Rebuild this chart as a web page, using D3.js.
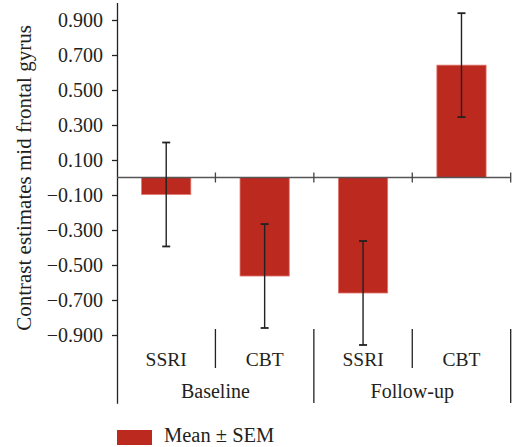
<!DOCTYPE html>
<html><head><meta charset="utf-8">
<script src="https://cdn.jsdelivr.net/npm/d3@7"></script>
<style>
body{margin:0;background:#fff;}
</style></head>
<body><svg id="c" width="518" height="447"></svg>
<script>
const categories = ["SSRI","CBT","SSRI","CBT"];
const groups = ["Baseline","Follow-up"];
const means = [-0.097, -0.563, -0.660, 0.642];
const sems = [0.297, 0.297, 0.297, 0.297];
const tickValues = [-0.9,-0.7,-0.5,-0.3,-0.1,0.1,0.3,0.5,0.7,0.9];
const yLabel = "Contrast estimates mid frontal gyrus";
const legendLabel = "Mean ± SEM";

(function(){
const FONT = "'Liberation Serif', 'DejaVu Serif', serif";
const svg = d3.select("#c");
const red = "#bb291f";
const y = d3.scaleLinear().domain([1.0, -1.29]).range([2.5, 403.25]);
const x = d3.scaleBand().domain(d3.range(categories.length)).range([117, 510.7]).padding(0);
const gx = d3.scaleBand().domain(groups).range([117, 510.7]).padding(0);

const yAxis = d3.axisLeft(y).tickValues(tickValues).tickFormat(d3.format(".3f")).tickSize(5).tickPadding(9).tickSizeOuter(0);
const ga = svg.append("g").attr("transform","translate(117,0)").call(yAxis);
ga.attr("font-family", null);
ga.selectAll("path.domain").attr("stroke","#222").attr("stroke-width",1.3);
ga.selectAll(".tick line").attr("stroke","#222").attr("stroke-width",1.3);
ga.selectAll(".tick text").style("font-size","20px").style("font-family",FONT).attr("fill","#231f20");

svg.selectAll("rect.bar").data(means).join("rect").attr("class","bar")
  .attr("x",(d,i)=>x(i)+x.bandwidth()*0.25)
  .attr("width",x.bandwidth()*0.5)
  .attr("y",d=>y(Math.max(0,d)))
  .attr("height",d=>Math.abs(y(d)-y(0)))
  .attr("fill",red).attr("stroke","#e0776d").attr("stroke-width",0.8);

svg.append("line").attr("x1",117).attr("x2",510.7).attr("y1",y(0)).attr("y2",y(0))
  .attr("stroke","#555").attr("stroke-width",1.5);
d3.range(1,categories.length+1).forEach(i=>{
  const xx = i<categories.length ? x(i) : x.range()[1];
  svg.append("line").attr("x1",xx).attr("x2",xx).attr("y1",y(0)-5).attr("y2",y(0)+5)
    .attr("stroke","#444").attr("stroke-width",1.3);
});

const eg = svg.append("g").attr("stroke","#222").attr("stroke-width",1.4);
means.forEach((m,i)=>{
  const cx = x(i)+x.bandwidth()/2;
  eg.append("line").attr("x1",cx).attr("x2",cx).attr("y1",y(m+sems[i])).attr("y2",y(m-sems[i]));
  [m+sems[i], m-sems[i]].forEach(v=>{
    eg.append("line").attr("x1",cx-4).attr("x2",cx+4).attr("y1",y(v)).attr("y2",y(v)).attr("stroke-width",1.8);
  });
});

const sepTop = 329;
svg.selectAll("text.cat").data(categories).join("text").attr("class","cat")
  .attr("x",(d,i)=>x(i)+x.bandwidth()/2).attr("y",366)
  .attr("text-anchor","middle").style("font-size","19.5px").style("font-family",FONT).attr("fill","#231f20").text(d=>d);
svg.selectAll("text.grp").data(groups).join("text").attr("class","grp")
  .attr("x",d=>gx(d)+gx.bandwidth()/2).attr("y",398)
  .attr("text-anchor","middle").style("font-size","20px").style("font-family",FONT).attr("fill","#231f20").text(d=>d);
const sep = svg.append("g").attr("stroke","#222").attr("stroke-width",1.3);
[1,3].forEach(i=>{
  sep.append("line").attr("x1",x(i)).attr("x2",x(i)).attr("y1",sepTop).attr("y2",368);
});
[gx("Follow-up"), x.range()[1]].forEach(xx=>{
  sep.append("line").attr("x1",xx).attr("x2",xx).attr("y1",sepTop).attr("y2",403);
});

svg.append("text").attr("transform","translate(31,178) rotate(-90)")
  .attr("text-anchor","middle").style("font-size","21px").style("font-family",FONT).attr("fill","#231f20").text(yLabel);

svg.append("rect").attr("x",117).attr("y",430).attr("width",35).attr("height",15).attr("fill",red);
svg.append("text").attr("x",164).attr("y",442).style("font-size","20.5px").style("font-family",FONT).attr("fill","#231f20").text(legendLabel);
})();
</script></body></html>
